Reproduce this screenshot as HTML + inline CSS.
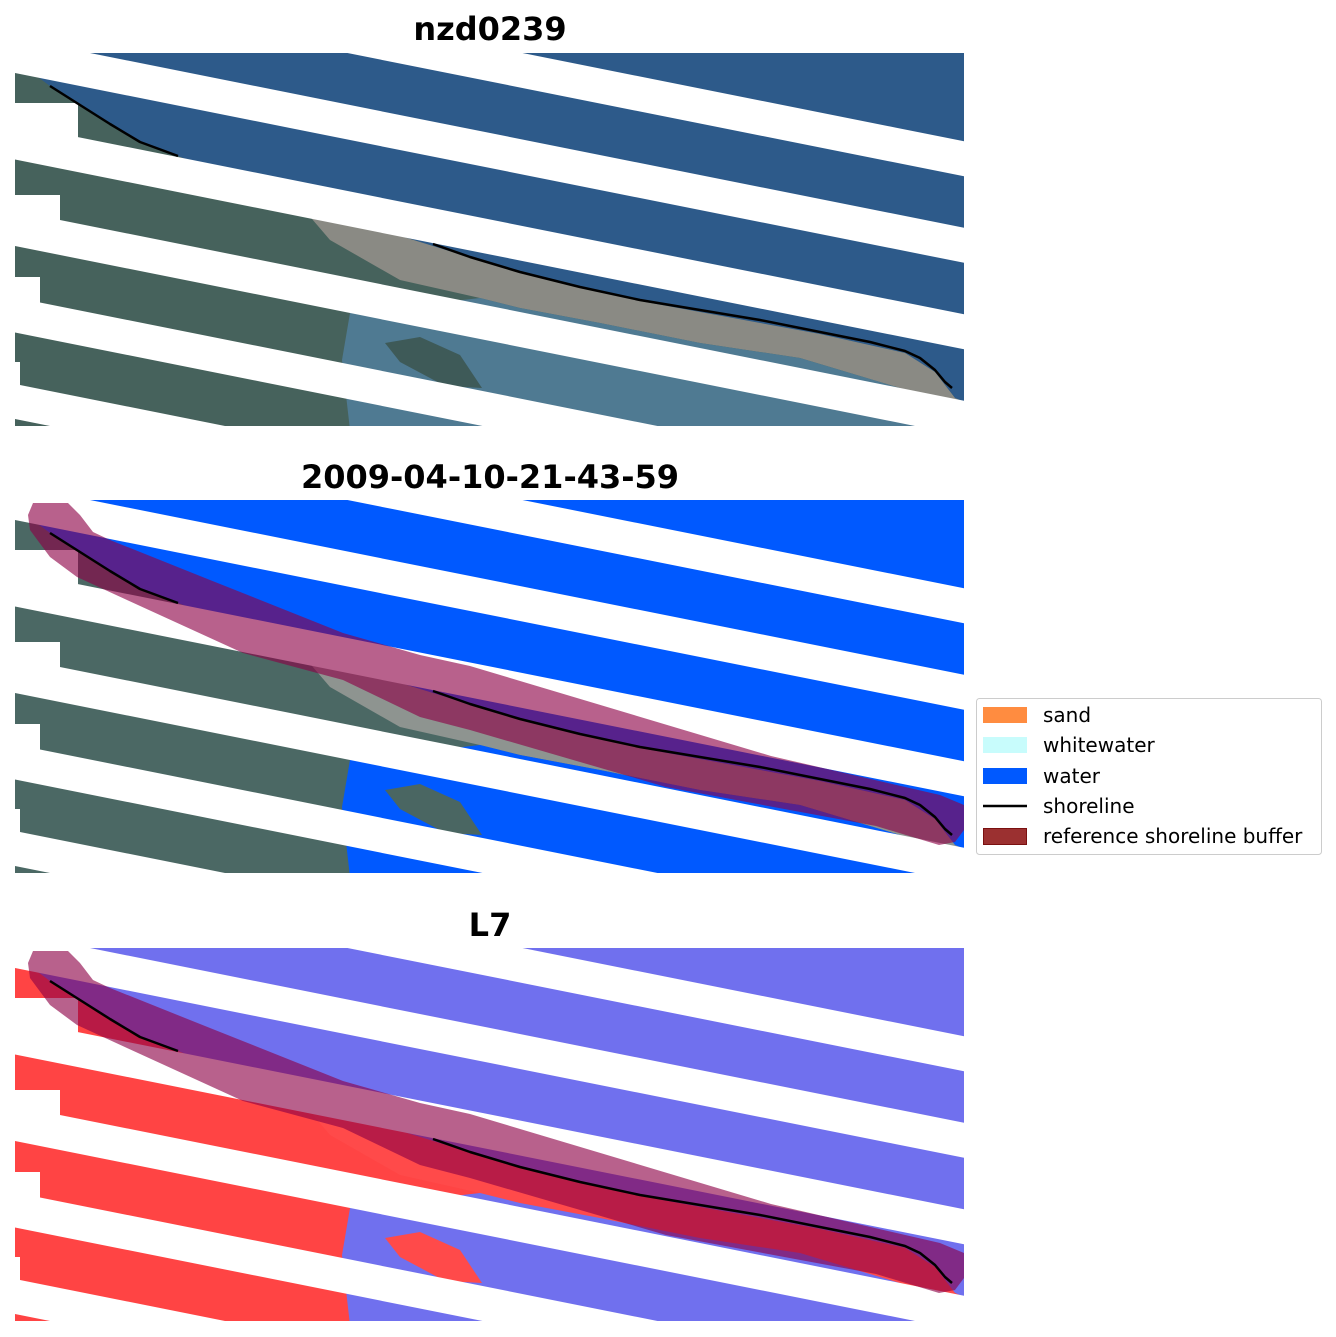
<!DOCTYPE html>
<html><head><meta charset="utf-8"><style>
html,body{margin:0;padding:0;background:#fff;overflow:hidden;width:1336px;height:1337px;position:relative}
svg{display:block;position:absolute;left:0;top:0}
</style></head><body>
<svg width="1336" height="1337" viewBox="0 0 1336 1337" xmlns="http://www.w3.org/2000/svg" overflow="hidden">
<defs>
<clipPath id="cp"><rect x="15" y="53" width="949" height="373"/></clipPath>
<g id="stripes" fill="#fff">
<polygon points="15,-48.5 964,141.3 964,176.3 15,-13.5"/>
<polygon points="15,38 964,227.8 964,262.8 15,73"/>
<polygon points="15,124.5 964,314.3 964,349.3 15,159.5"/>
<polygon points="15,211 964,400.8 964,435.8 15,246"/>
<polygon points="15,297.5 964,487.3 964,522.3 15,332.5"/>
<polygon points="15,384 964,573.8 964,608.8 15,419"/>
<rect x="15" y="103" width="63" height="52"/>
<rect x="15" y="195" width="45" height="45"/>
<rect x="15" y="277" width="25" height="45"/>
<rect x="15" y="362" width="5" height="45"/>
<rect x="0" y="0" width="15" height="440"/>
</g>
<polygon id="land" points="15,60 50,86 80,105 110,124 140,142 178,156 240,180 300,205 433,246 520,273 640,301 820,334 905,353 935,372 955,398 964,402 964,430 15,430"/>
<polygon id="strip" points="300,205 433,246 520,273 640,301 820,334 905,353 935,372 955,398 964,402 964,410 945,403 900,388 800,358 700,343 600,323 520,308 480,298 400,280 330,240"/>
<polygon id="lagoon" points="350,313 480,298 520,308 600,323 700,343 800,358 900,388 945,403 964,410 964,430 350,430 342,360"/>
<polygon id="island" points="385,343 420,337 460,355 482,388 445,386 400,362"/>
<polygon id="buf" points="28,68 33,56 68,56 80,68 93,85 110,93 210,133 343,186 420,208 470,219 771,309 940,348 964,358 964,383 955,395 939,398 876,379 666,340 470,283 420,270 343,233 243,206 127,153 77,130 50,110 30,83"/>
<g id="shore" fill="none" stroke="#000" stroke-width="2.5" stroke-linejoin="round">
<polyline points="50,86 80,105 110,124 140,142 178,156"/>
<polyline points="433,244 470,257 520,272 580,287 640,300 700,310 760,320 820,332 870,342 905,351 920,358 935,370 945,382 952,388"/>
</g>
</defs>

<g font-family="DejaVu Sans, Liberation Sans, sans-serif" font-weight="bold" font-size="32" text-anchor="middle" fill="#000">
<text x="490" y="40">nzd0239</text>
<text x="490" y="488">2009-04-10-21-43-59</text>
<text x="490" y="936">L7</text>
</g>

<g clip-path="url(#cp)">
<rect x="15" y="53" width="949" height="373" fill="#2d5a8a"/>
<use href="#land" fill="#46625c"/>
<use href="#strip" fill="#8a8a84"/>
<use href="#lagoon" fill="#4f7a92"/>
<use href="#island" fill="#3e5a58"/>
<use href="#stripes"/>
</g>
<use href="#shore"/>

<g transform="translate(0,447)">
<g clip-path="url(#cp)">
<rect x="15" y="53" width="949" height="373" fill="#0059ff"/>
<use href="#land" fill="#4b6864"/>
<use href="#strip" fill="#8e9490"/>
<use href="#lagoon" fill="#0059ff"/>
<use href="#island" fill="#4a6662"/>
<use href="#stripes"/>
<use href="#buf" fill="#8c0046" fill-opacity="0.62"/>
</g>
<use href="#shore"/>
</g>

<g transform="translate(0,895)">
<g clip-path="url(#cp)">
<rect x="15" y="53" width="949" height="373" fill="#7070ee"/>
<use href="#land" fill="#ff4444"/>
<use href="#strip" fill="#ff4a4a"/>
<use href="#lagoon" fill="#7070ee"/>
<use href="#island" fill="#ff4a4a"/>
<use href="#stripes"/>
<use href="#buf" fill="#8c0046" fill-opacity="0.62"/>
</g>
<use href="#shore"/>
</g>

<rect x="976.5" y="698.5" width="345" height="156" rx="3" fill="#fff" stroke="#ccc" stroke-width="1"/>
<rect x="983" y="707" width="44" height="16" fill="#ff8c40"/>
<rect x="983" y="737" width="44" height="16" fill="#c8fcfc"/>
<rect x="983" y="768" width="44" height="16" fill="#0059ff"/>
<line x1="983" y1="806" x2="1027" y2="806" stroke="#000" stroke-width="2.5"/>
<rect x="983.5" y="828.5" width="43" height="16" fill="#9b3030" stroke="#7a1010" stroke-width="1"/>
<g font-family="DejaVu Sans, Liberation Sans, sans-serif" font-size="20" fill="#000">
<text x="1043" y="722">sand</text>
<text x="1043" y="752">whitewater</text>
<text x="1043" y="783">water</text>
<text x="1043" y="813">shoreline</text>
<text x="1043" y="843">reference shoreline buffer</text>
</g>
</svg>
</body></html>
